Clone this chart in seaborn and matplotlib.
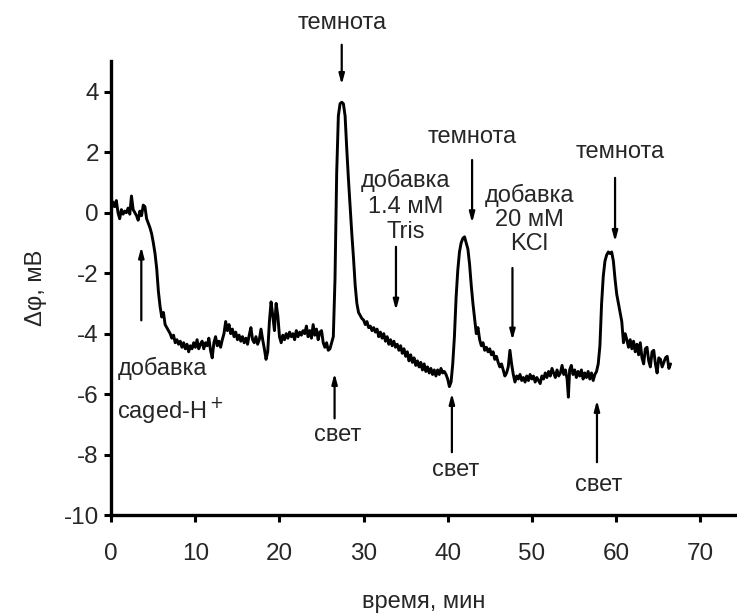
import numpy as np
import pandas as pd
import matplotlib
matplotlib.use("Agg")
import matplotlib.pyplot as plt
import seaborn as sns

# ---- data ----
time_min = [
    0.0, 0.2, 0.4, 0.6, 0.8, 1.0, 1.2, 1.4, 1.6, 1.8, 2.0, 2.2, 2.4, 2.6, 2.8, 3.0, 3.2, 3.4, 3.6, 3.8, 4.0, 4.2,
    4.4, 4.6, 4.8, 5.0, 5.2, 5.4, 5.6, 5.8, 6.0, 6.2, 6.4, 6.6, 6.8, 7.0, 7.2, 7.4, 7.6, 7.8, 8.0,
    8.2, 8.4, 8.6, 8.8, 9.0, 9.2, 9.4, 9.6, 9.8, 10.0, 10.2, 10.4, 10.6, 10.8, 11.0, 11.2, 11.4, 11.6, 11.8,
    12.0, 12.2, 12.4, 12.6, 12.8, 13.0, 13.2, 13.4, 13.6, 13.8, 14.0, 14.2, 14.4, 14.6, 14.8, 15.0, 15.2,
    15.4, 15.6, 15.8, 16.0, 16.2, 16.4, 16.6, 16.8, 17.0, 17.2, 17.4, 17.6, 17.8, 18.0, 18.2, 18.4, 18.6,
    18.8, 19.0, 19.2, 19.4, 19.6, 19.8, 20.0, 20.2, 20.4, 20.6, 20.8, 21.0, 21.2, 21.4, 21.6, 21.8, 22.0,
    22.2, 22.4, 22.6, 22.8, 23.0, 23.2, 23.4, 23.6, 23.8, 24.0, 24.2, 24.4, 24.6, 24.8, 25.0, 25.2, 25.4,
    25.6, 25.8, 26.0, 26.2, 26.4,
    26.6, 26.8, 27.0, 27.2, 27.4, 27.6, 27.8, 28.0, 28.2, 28.4, 28.6, 28.8, 29.0, 29.2, 29.4, 29.6, 29.8,
    30.0, 30.2, 30.4, 30.6, 30.8, 31.0, 31.2, 31.4, 31.6, 31.8, 32.0, 32.2, 32.4, 32.6, 32.8, 33.0, 33.2,
    33.4, 33.6, 33.8, 34.0, 34.2, 34.4, 34.6, 34.8, 35.0, 35.2, 35.4, 35.6, 35.8, 36.0, 36.2, 36.4, 36.6,
    36.8, 37.0, 37.2, 37.4, 37.6, 37.8, 38.0, 38.2, 38.4, 38.6, 38.8, 39.0, 39.2, 39.4, 39.6, 39.8, 40.0,
    40.2, 40.4, 40.6, 40.8, 41.0, 41.2, 41.4, 41.6, 41.8, 42.0, 42.2, 42.4, 42.6, 42.8, 43.0, 43.2, 43.4,
    43.6, 43.8, 44.0, 44.2, 44.4, 44.6, 44.8, 45.0, 45.2, 45.4, 45.6, 45.8, 46.0, 46.2, 46.4, 46.6, 46.8,
    47.0, 47.2, 47.4, 47.6, 47.8, 48.0, 48.2,
    48.4, 48.6, 48.8, 49.0, 49.2, 49.4, 49.6, 49.8, 50.0, 50.2, 50.4, 50.6, 50.8, 51.0, 51.2, 51.4, 51.6,
    51.8, 52.0, 52.2, 52.4, 52.6, 52.8, 53.0, 53.2, 53.4, 53.6, 53.8, 54.0, 54.2, 54.35, 54.5, 54.7, 54.9,
    55.1, 55.3, 55.5, 55.7, 55.9, 56.1, 56.3, 56.5, 56.7, 56.9, 57.1, 57.3, 57.5, 57.7, 57.9, 58.1, 58.3,
    58.5, 58.7, 58.9, 59.1, 59.3, 59.5, 59.7, 59.9, 60.1, 60.3, 60.5, 60.7, 60.9, 61.1, 61.3, 61.5, 61.7,
    61.9, 62.1, 62.3, 62.5, 62.7, 62.9, 63.1, 63.3, 63.5, 63.7, 63.9, 64.1, 64.3, 64.5, 64.7, 64.9, 65.1,
    65.3, 65.5, 65.7, 65.9, 66.1, 66.3, 66.5,
]
delta_phi_mV = [
    0.1, 0.35, 0.2, 0.4, 0.0, -0.2, 0.1, -0.05, 0.05, 0.0, 0.15, -0.05, 0.55, 0.1, 0.0, -0.1, -0.25, 0.05, -0.1, 0.25, 0.2, -0.2,
    -0.35, -0.5, -0.7, -1.0, -1.35, -1.85, -2.6, -3.1, -3.45, -3.3, -3.7, -3.8, -3.9, -4.0, -4.15, -4.05, -4.3, -4.2, -4.35,
    -4.25, -4.45, -4.3, -4.5, -4.35, -4.6, -4.4, -4.5, -4.3, -4.45, -4.2, -4.5, -4.35, -4.25, -4.5, -4.3, -4.4, -4.15, -4.55,
    -4.8, -4.3, -4.1, -4.4, -4.25, -4.45, -4.2, -4.0, -3.6, -3.9, -3.7, -4.0, -3.85, -4.1, -3.95, -4.2, -4.05,
    -4.25, -4.1, -4.3, -4.15, -4.35, -4.05, -3.8, -4.2, -4.3, -4.1, -4.35, -4.2, -3.85, -4.2, -4.5, -4.85, -4.6,
    -3.6, -2.95, -3.4, -3.9, -3.0, -3.4, -4.1, -4.3, -4.05, -4.2, -4.0, -4.15, -3.95, -4.1, -4.0, -4.2, -3.9,
    -4.1, -3.95, -4.05, -3.9, -4.0, -3.75, -4.1, -3.9, -4.15, -3.7, -4.05, -3.85, -4.2, -3.95, -3.9, -4.3, -4.45,
    -4.3, -4.55, -4.5, -4.3, -4.1,
    -2.2, 1.3, 3.2, 3.6, 3.65, 3.6, 3.2, 2.1, 1.1, 0.2, -0.7, -1.5, -2.4, -3.0, -3.3, -3.4, -3.5,
    -3.55, -3.7, -3.6, -3.8, -3.75, -3.9, -3.8, -3.95, -3.85, -4.1, -3.95, -4.15, -4.0, -4.25, -4.1, -4.35, -4.2,
    -4.4, -4.25, -4.45, -4.35, -4.55, -4.4, -4.65, -4.5, -4.75, -4.6, -4.9, -4.7, -4.95, -4.8, -5.05, -4.9, -5.1,
    -4.95, -5.2, -5.0, -5.25, -5.1, -5.3, -5.15, -5.35, -5.2, -5.4, -5.2, -5.35, -5.15, -5.3, -5.25, -5.35, -5.5,
    -5.75, -5.6, -5.0, -4.1, -2.8, -1.9, -1.3, -1.0, -0.85, -0.8, -1.0, -1.2, -1.7, -2.4, -3.0, -3.5, -4.0,
    -3.8, -4.2, -4.4, -4.3, -4.55, -4.45, -4.6, -4.5, -4.7, -4.6, -4.85, -4.75, -4.95, -5.1, -5.0, -5.2, -5.4,
    -5.3, -5.1, -4.55, -5.0, -5.35, -5.6, -5.4,
    -5.5, -5.35, -5.55, -5.45, -5.6, -5.4, -5.55, -5.35, -5.5, -5.4, -5.6, -5.45, -5.55, -5.65, -5.4, -5.5, -5.3,
    -5.45, -5.25, -5.4, -5.15, -5.3, -5.45, -5.2, -5.4, -5.3, -5.05, -5.35, -5.2, -5.5, -6.1, -5.2, -5.05, -5.35,
    -5.2, -5.45, -5.25, -5.4, -5.2, -5.5, -5.3, -5.45, -5.25, -5.5, -5.3, -5.55, -5.35, -5.25, -5.0, -4.4, -3.0,
    -2.1, -1.6, -1.4, -1.3, -1.35, -1.3, -1.6, -2.2, -2.7, -3.0, -3.3, -3.6, -4.3, -4.0, -4.2, -4.45, -4.2,
    -4.5, -4.25, -4.6, -4.35, -4.7, -4.3, -4.8, -5.0, -4.5, -4.45, -4.9, -5.1, -4.6, -4.55, -5.0, -5.3, -4.8,
    -4.85, -5.1, -4.95, -4.8, -4.75, -5.15, -5.0,
]

x_ticks = [0, 10, 20, 30, 40, 50, 60, 70]
y_ticks = [-10, -8, -6, -4, -2, 0, 2, 4]
x_label = "время, мин"
y_label = "Δφ, мВ"

# annotations: (text, text x, text y, arrow x, arrow start y, arrow end y)
dark_labels = ["темнота", "темнота", "темнота"]
dark_text_x = [27.4, 42.9, 60.5]
dark_text_y = [6.28, 2.51, 2.02]
dark_arrow_x = [27.4, 42.9, 59.9]
dark_arrow_y0 = [5.55, 1.74, 1.15]
dark_arrow_y1 = [4.23, -0.34, -0.96]

light_labels = ["свет", "свет", "свет"]
light_text_x = [26.9, 40.9, 57.9]
light_text_y = [-7.36, -8.52, -8.99]
light_arrow_x = [26.55, 40.5, 57.75]
light_arrow_y0 = [-6.80, -7.92, -8.25]
light_arrow_y1 = [-5.31, -5.97, -6.20]

df = pd.DataFrame({"t": time_min, "v": delta_phi_mV})

sns.set_style("ticks")
plt.rcParams['font.family'] = ['Liberation Sans', 'DejaVu Sans']
plt.rcParams['axes.unicode_minus'] = False

fig = plt.figure(figsize=(7.37, 6.14), dpi=100)
ax = fig.add_axes([0.151, 0.161, 0.849, 0.739])

sns.lineplot(data=df, x="t", y="v", color="black", linewidth=2.1, ax=ax, sort=False)

ax.set_xlim(0, 74.4)
ax.set_ylim(-10, 5)
ax.set_xticks(x_ticks)
ax.set_yticks(y_ticks)
ax.set_xlabel(x_label, fontsize=17, labelpad=19)
ax.set_ylabel(y_label, fontsize=17, labelpad=12)
ax.tick_params(axis="both", labelsize=17.5, width=2.2, length=5, color="black")
ax.tick_params(axis="x", pad=15)
ax.tick_params(axis="y", pad=4)
for s in ["top", "right"]:
    ax.spines[s].set_visible(False)
for s in ["left", "bottom"]:
    ax.spines[s].set_linewidth(2.4)
    ax.spines[s].set_color("black")

fs = 17
arrowprops = dict(arrowstyle="-|>,head_length=0.6,head_width=0.16", color="black", lw=1.6,
                  shrinkA=0, shrinkB=0)

def arrow(x, y0, y1):
    ax.annotate("", xy=(x, y1), xytext=(x, y0), arrowprops=arrowprops, annotation_clip=False)

for lab, tx, ty, axx, a0, a1 in zip(dark_labels, dark_text_x, dark_text_y, dark_arrow_x, dark_arrow_y0, dark_arrow_y1):
    ax.text(tx, ty, lab, ha="center", va="center", fontsize=fs, clip_on=False)
    arrow(axx, a0, a1)

for lab, tx, ty, axx, a0, a1 in zip(light_labels, light_text_x, light_text_y, light_arrow_x, light_arrow_y0, light_arrow_y1):
    ax.text(tx, ty, lab, ha="center", va="center", fontsize=fs)
    arrow(axx, a0, a1)

ax.text(34.96, 0.22, "добавка\n1.4 мМ\nTris", ha="center", va="center", fontsize=fs, linespacing=1.2)
arrow(33.85, -1.13, -3.23)
ax.text(49.7, -0.22, "добавка\n20 мМ\nKCl", ha="center", va="center", fontsize=fs, linespacing=1.12)
arrow(47.7, -1.83, -4.22)
ax.text(0.71, -5.9, "добавка\ncaged-H$^+$", ha="left", va="center", fontsize=fs, linespacing=1.65)
arrow(3.57, -3.56, -1.13)

fig.savefig("out.png", dpi=100)
